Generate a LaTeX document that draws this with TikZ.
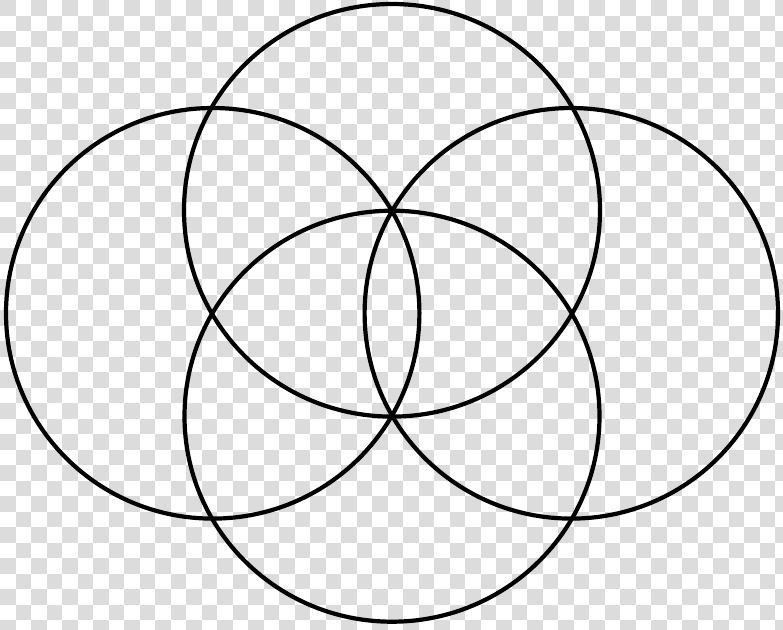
\documentclass[tikz,border=0pt]{standalone}
\usepackage{tikz}

\definecolor{scacco}{RGB}{220,220,220}

\begin{document}
\begin{tikzpicture}[x=1pt, y=-1pt, line width=4.2pt]

    \useasboundingbox (0, 0) rectangle (783, 629);

    % -- Sfondo a scacchi (trasparenza) --
    \begin{scope}
        \clip (0, 0) rectangle (783, 629);
        \fill[white] (0, 0) rectangle (783, 629);
        \foreach \i in {0,2,...,50} {
            \foreach \j in {0,2,...,40} {
                \fill[scacco] (\i*15.5, \j*15.5) rectangle ++(15.5, 15.5);
                \fill[scacco] (\i*15.5+15.5, \j*15.5+15.5) rectangle ++(15.5, 15.5);
            }
        }
    \end{scope}

    % Centri dei quattro cerchi
    \coordinate (alto) at (392, 210.3);
    \coordinate (basso) at (392, 416.2);
    \coordinate (sinistra) at (212.7, 313.3);
    \coordinate (destra) at (571.3, 313.3);

    % -- I quattro cerchi --
    \draw (alto) ellipse[x radius=208, y radius=206.3];
    \draw (basso) ellipse[x radius=207.5, y radius=205.5];
    \foreach \c in {sinistra, destra} {
        \draw (\c) ellipse[x radius=206.7, y radius=205.3];
    }
\end{tikzpicture}
\end{document}
